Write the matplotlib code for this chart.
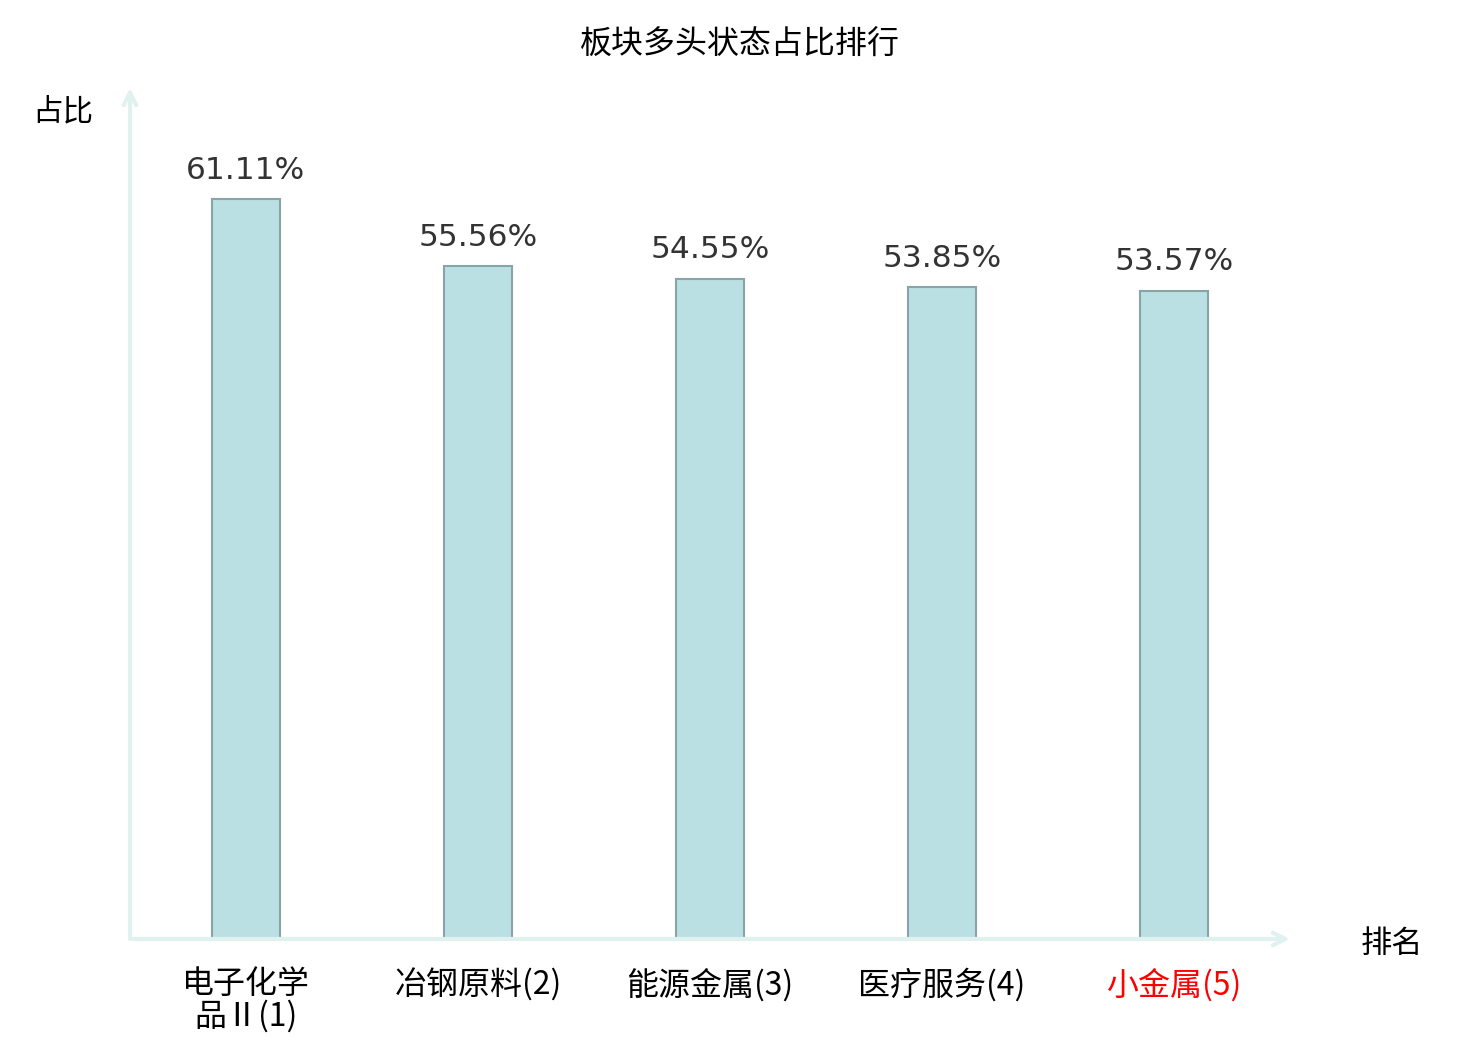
import numpy as np
from matplotlib import pyplot as plt

plt.rcParams['font.family'] = ['Noto Sans CJK SC', 'DejaVu Sans']

# data
categories = ['电子化学\n品Ⅱ(1)', '冶钢原料(2)', '能源金属(3)', '医疗服务(4)', '小金属(5)']
values = [61.11, 55.56, 54.55, 53.85, 53.57]
label_colors = ['black', 'black', 'black', 'black', 'red']

axis_col = '#dff2f0'

fig = plt.figure(figsize=(14.8, 10.4), dpi=100)
ax = fig.add_axes([130 / 1480, 101 / 1040, 1160 / 1480, 851 / 1040])

x = np.arange(len(values))
ax.bar(x, values, width=0.295, color='#bbe0e3', edgecolor='#88a4a6', linewidth=1.5, zorder=2)

for xi, v in zip(x, values):
    ax.text(xi, v + 1.2, '%.2f%%' % v, ha='center', va='bottom', fontsize=22.5,
            color='#333333', family='DejaVu Sans')

ax.set_xlim(-0.5, 4.5)
ax.set_ylim(0, 70.3)
ax.set_xticks(x)
ax.set_xticklabels(categories, fontsize=23, linespacing=0.98)
for lbl, c in zip(ax.get_xticklabels(), label_colors):
    lbl.set_color(c)
ax.tick_params(axis='x', length=0, pad=21)
ax.set_yticks([])
for s in ax.spines.values():
    s.set_visible(False)

# axis arrows
ax.annotate('', xy=(1.0, 0), xytext=(0, 0), xycoords='axes fraction',
            arrowprops=dict(arrowstyle='->,head_length=0.9,head_width=0.45', color=axis_col, lw=3,
                            shrinkA=0, shrinkB=0))
ax.annotate('', xy=(0, 1.0), xytext=(0, 0), xycoords='axes fraction',
            arrowprops=dict(arrowstyle='->,head_length=0.9,head_width=0.45', color=axis_col, lw=3,
                            shrinkA=0, shrinkB=0))

fig.text(740 / 1480, 1 - 45 / 1040, '板块多头状态占比排行', ha='center', va='center', fontsize=23)
fig.text(63 / 1480, 1 - 112 / 1040, '占比', ha='center', va='center', fontsize=22)
fig.text(1392 / 1480, 1 - 944 / 1040, '排名', ha='center', va='center', fontsize=22.5)

fig.savefig('out.png', dpi=100)
